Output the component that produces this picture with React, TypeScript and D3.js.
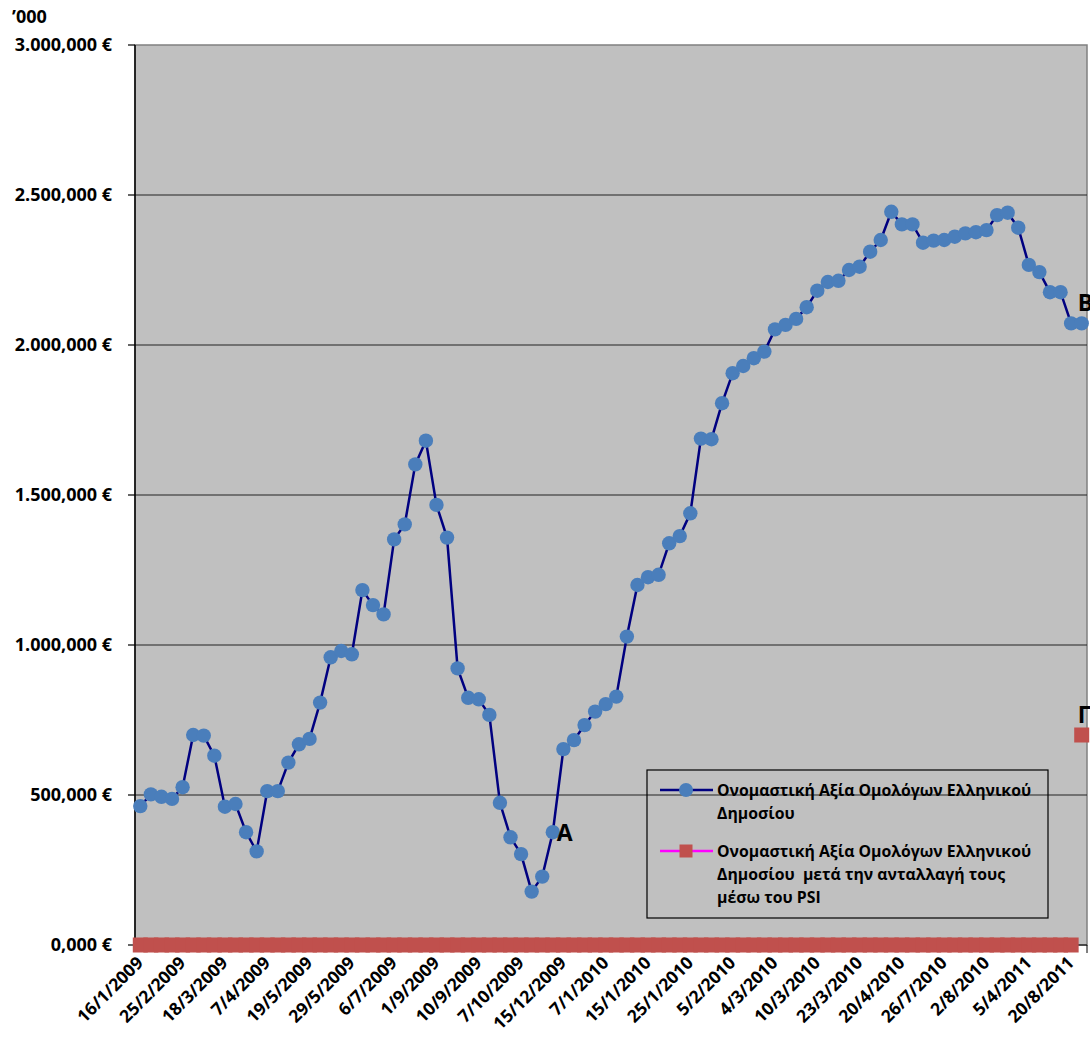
import React from "react";
import * as d3 from "d3";

// nominal value of Greek government bonds, in '000 €
const bondValues = [
  463, 502, 494, 487, 526, 700, 698, 631, 461, 470,
  376, 312, 513, 513, 608, 669, 687, 808, 959, 980,
  969, 1183, 1133, 1102, 1352, 1402, 1602, 1681, 1467, 1358,
  922, 824, 819, 767, 474, 359, 303, 178, 228, 376,
  653, 683, 733, 778, 803, 828, 1028, 1200, 1226, 1234,
  1339, 1363, 1439, 1688, 1686, 1806, 1906, 1930, 1956, 1978,
  2052, 2067, 2087, 2126, 2181, 2210, 2214, 2250, 2261, 2311,
  2350, 2444, 2402, 2402, 2341, 2348, 2350, 2361, 2372, 2376,
  2383, 2433, 2441, 2391, 2267, 2243, 2176, 2176, 2072, 2072,
];

// same bonds after the PSI exchange (only the last point is non zero)
const psiValues = [
  0, 0, 0, 0, 0, 0, 0, 0, 0, 0,
  0, 0, 0, 0, 0, 0, 0, 0, 0, 0,
  0, 0, 0, 0, 0, 0, 0, 0, 0, 0,
  0, 0, 0, 0, 0, 0, 0, 0, 0, 0,
  0, 0, 0, 0, 0, 0, 0, 0, 0, 0,
  0, 0, 0, 0, 0, 0, 0, 0, 0, 0,
  0, 0, 0, 0, 0, 0, 0, 0, 0, 0,
  0, 0, 0, 0, 0, 0, 0, 0, 0, 0,
  0, 0, 0, 0, 0, 0, 0, 0, 0, 700,
];

// one date label every 4 categories
const dateLabels = [
  "16/1/2009", "25/2/2009", "18/3/2009", "7/4/2009", "19/5/2009", "29/5/2009",
  "6/7/2009", "1/9/2009", "10/9/2009", "7/10/2009", "15/12/2009", "7/1/2010",
  "15/1/2010", "25/1/2010", "5/2/2010", "4/3/2010", "10/3/2010", "23/3/2010",
  "20/4/2010", "26/7/2010", "2/8/2010", "5/4/2011", "20/8/2011",
];
const labelEvery = 4;

const yTicks = [0, 500, 1000, 1500, 2000, 2500, 3000];
const yTickLabels = ["0,000 €", "500,000 €", "1.000,000 €", "1.500,000 €", "2.000,000 €", "2.500,000 €", "3.000,000 €"];

const legendFirst = ["Ονομαστική Αξία Ομολόγων Ελληνικού", "Δημοσίου"];
const legendSecond = ["Ονομαστική Αξία Ομολόγων Ελληνικού", "Δημοσίου  μετά την ανταλλαγή τους", "μέσω του PSI"];

const FONT = "'Open Sans', 'Noto Sans', sans-serif";

export default function App() {
  const width = 1090, height = 1057;
  const margin = { top: 45, left: 135 };
  const plotW = 952, plotH = 900;

  const n = bondValues.length;
  const x = d3.scaleBand<number>().domain(d3.range(n)).range([margin.left, margin.left + plotW]);
  const cx = (i: number) => (x(i) as number) + x.bandwidth() / 2;
  const y = d3.scaleLinear().domain([0, 3000]).range([margin.top + plotH, margin.top]);

  const bondLine = d3.line<number>().x((d, i) => cx(i)).y((d) => y(d))(bondValues) as string;
  const psiLine = d3.line<number>()
    .defined((d, i) => i < n - 1)
    .x((d, i) => cx(i)).y((d) => y(d))(psiValues) as string;

  const last = n - 1;
  const aIdx = 39;
  const sq = 15;

  const legend = { x: 647, y: 770, w: 401, h: 148 };

  return (
    <svg width={width} height={height} style={{ position: "absolute", left: 0, top: 0, background: "#fff" }}>
      <rect x={margin.left} y={margin.top} width={plotW} height={plotH} fill="#c0c0c0" stroke="#808080" strokeWidth={1.5} />

      {yTicks.slice(1, -1).map((t) => (
        <line key={t} x1={margin.left} x2={margin.left + plotW} y1={y(t)} y2={y(t)} stroke="#222" strokeWidth={1.2} />
      ))}

      {/* y axis */}
      <line x1={margin.left} x2={margin.left} y1={margin.top} y2={margin.top + plotH} stroke="#000" strokeWidth={1.5} />
      {yTicks.map((t, i) => (
        <g key={t}>
          <line x1={margin.left - 7} x2={margin.left} y1={y(t)} y2={y(t)} stroke="#000" strokeWidth={1.2} />
          <text x={112} y={y(t)} dy="0.35em" textAnchor="end" fontFamily={FONT} fontWeight="bold" fontSize={18}>
            {yTickLabels[i]}
          </text>
        </g>
      ))}
      <text x={12} y={23} fontFamily={FONT} fontWeight="bold" fontSize={18}>’000</text>

      {/* x axis */}
      <line x1={margin.left} x2={margin.left + plotW} y1={y(0)} y2={y(0)} stroke="#000" strokeWidth={1.2} />
      {dateLabels.map((lab, k) => {
        const i = k * labelEvery;
        const tx = cx(i) + 4, ty = y(0) + 19;
        return (
          <text key={lab} x={tx} y={ty} transform={`rotate(-45 ${tx} ${ty})`} textAnchor="end"
            fontFamily={FONT} fontWeight="bold" fontSize={17.5}>
            {lab}
          </text>
        );
      })}
      <line x1={margin.left + plotW} x2={margin.left + plotW} y1={y(0)} y2={y(0) + 8} stroke="#000" />

      {/* series 1 */}
      <path d={bondLine} fill="none" stroke="#000080" strokeWidth={2.5} />
      {bondValues.map((v, i) => (
        <circle key={i} cx={cx(i)} cy={y(v)} r={7.2} fill="#4a7ebb" />
      ))}

      {/* series 2 */}
      <path d={psiLine} fill="none" stroke="#ff00ff" strokeWidth={2.5} />
      {psiValues.map((v, i) => (
        <rect key={i} x={cx(i) - sq / 2} y={y(v) - sq / 2} width={sq} height={sq} fill="#c0504d" />
      ))}

      {/* point labels */}
      <text x={cx(aIdx) + 4} y={y(bondValues[aIdx]) + 9} fontFamily={FONT} fontWeight="bold" fontSize={23}>A</text>
      <text x={cx(last) - 4} y={y(bondValues[last]) - 12} fontFamily={FONT} fontWeight="bold" fontSize={23}>B</text>
      <text x={cx(last) - 4} y={y(psiValues[last]) - 12} fontFamily={FONT} fontWeight="bold" fontSize={23}>Γ</text>

      {/* legend */}
      <rect x={legend.x} y={legend.y} width={legend.w} height={legend.h} fill="none" stroke="#000" strokeWidth={1.2} />
      <line x1={660} x2={713} y1={790} y2={790} stroke="#000080" strokeWidth={2.5} />
      <circle cx={686} cy={790} r={7} fill="#4a7ebb" />
      {legendFirst.map((t, i) => (
        <text key={i} x={717} y={790 + i * 23} dy="0.35em" fontFamily={FONT} fontWeight="bold" fontSize={15.8}
          style={{ whiteSpace: "pre" }}>{t}</text>
      ))}
      <line x1={660} x2={713} y1={851} y2={851} stroke="#ff00ff" strokeWidth={2.5} />
      <rect x={686 - 6.5} y={851 - 6.5} width={13} height={13} fill="#c0504d" />
      {legendSecond.map((t, i) => (
        <text key={i} x={717} y={851 + i * 23} dy="0.35em" fontFamily={FONT} fontWeight="bold" fontSize={15.8}
          style={{ whiteSpace: "pre" }}>{t}</text>
      ))}
    </svg>
  );
}
